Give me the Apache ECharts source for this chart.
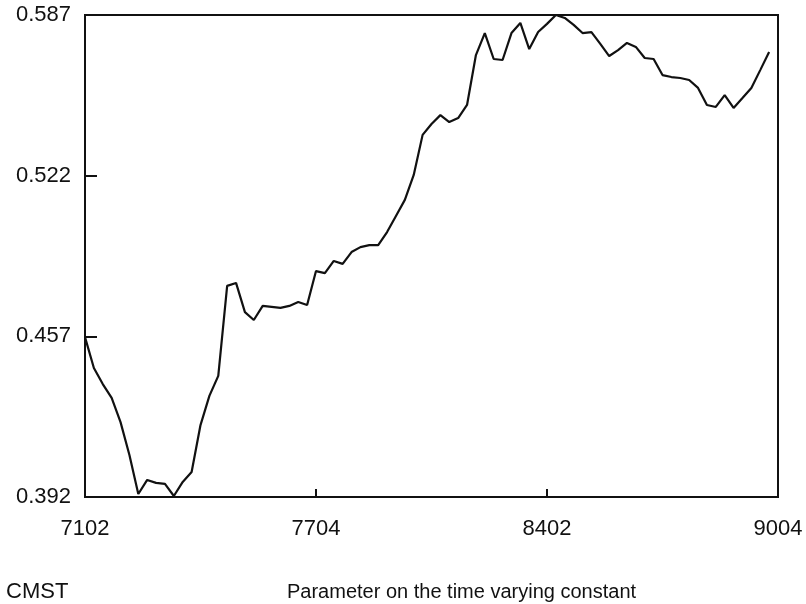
<!DOCTYPE html>
<html>
<head>
<meta charset="utf-8">
<script src="https://cdn.jsdelivr.net/npm/echarts@6/dist/echarts.min.js"></script>
<style>
  html, body { margin: 0; padding: 0; background: #fff; }
  #chart { width: 806px; height: 604px; }
</style>
</head>
<body>
<div id="chart"></div>
<script>
// quarterly CMST parameter, 1971Q2 onwards (one value per quarter)
const cmst = [
  0.4567, 0.4442, 0.4377, 0.4321, 0.4223, 0.4090, 0.3932, 0.3989, 0.3977, 0.3973,
  0.3924, 0.3981, 0.4021, 0.4211, 0.4329, 0.4410, 0.4774, 0.4786, 0.4668, 0.4636,
  0.4693, 0.4689, 0.4685, 0.4693, 0.4709, 0.4697, 0.4834, 0.4826, 0.4875, 0.4863,
  0.4911, 0.4931, 0.4939, 0.4939, 0.4992, 0.5057, 0.5122, 0.5223, 0.5385, 0.5429,
  0.5465, 0.5437, 0.5453, 0.5506, 0.5708, 0.5797, 0.5692, 0.5688, 0.5797, 0.5838,
  0.5732, 0.5801, 0.5834, 0.5870, 0.5858, 0.5830, 0.5797, 0.5801, 0.5753, 0.5704,
  0.5728, 0.5757, 0.5741, 0.5696, 0.5692, 0.5627, 0.5619, 0.5615, 0.5607, 0.5575,
  0.5506, 0.5498, 0.5546, 0.5494, 0.5534, 0.5575, 0.5647, 0.5720
];

// x tick positions (quarter index) and their labels
const xTickPos = [0, 26, 52, 78];
const xTickLabels = ['7102', '7704', '8402', '9004'];
const yTicks = [0.392, 0.457, 0.522, 0.587];

const font = 'Liberation Sans, Arial, Helvetica, sans-serif';

const myChart = echarts.init(document.getElementById('chart'), null, { renderer: 'canvas' });

const option = {
  animation: false,
  backgroundColor: '#fff',
  title: [
    {
      text: 'CMST',
      left: 6,
      top: 581,
      padding: 0,
      textStyle: { fontFamily: font, fontSize: 22, fontWeight: 'normal', color: '#111' }
    },
    {
      text: 'Parameter on the time varying constant',
      left: 287,
      top: 582,
      padding: 0,
      textStyle: { fontFamily: font, fontSize: 20, fontWeight: 'normal', color: '#111' }
    }
  ],
  grid: {
    left: 85,
    right: 28,
    top: 15,
    bottom: 107,
    show: true,
    borderColor: '#111',
    borderWidth: 2,
    backgroundColor: 'transparent'
  },
  xAxis: {
    type: 'value',
    min: 0,
    max: 78,
    axisLine: { show: true, lineStyle: { color: '#111', width: 2 } },
    axisTick: {
      show: true,
      inside: true,
      length: 8,
      customValues: xTickPos,
      lineStyle: { color: '#111', width: 2 }
    },
    axisLabel: {
      customValues: xTickPos,
      margin: 21,
      fontFamily: font,
      fontSize: 22,
      color: '#111',
      formatter: (v) => xTickLabels[xTickPos.indexOf(v)] ?? ''
    },
    splitLine: { show: false }
  },
  yAxis: {
    type: 'value',
    min: 0.392,
    max: 0.587,
    axisLine: { show: true, lineStyle: { color: '#111', width: 2 } },
    axisTick: {
      show: true,
      inside: true,
      length: 12,
      customValues: yTicks,
      lineStyle: { color: '#111', width: 2 }
    },
    axisLabel: {
      customValues: yTicks,
      margin: 14,
      fontFamily: font,
      fontSize: 22,
      color: '#111',
      formatter: (v) => v.toFixed(3)
    },
    splitLine: { show: false }
  },
  series: [
    {
      type: 'line',
      data: cmst.map((v, i) => [i, v]),
      showSymbol: false,
      lineStyle: { color: '#111', width: 2.2 },
      clip: true
    }
  ]
};

myChart.setOption(option);
</script>
</body>
</html>
